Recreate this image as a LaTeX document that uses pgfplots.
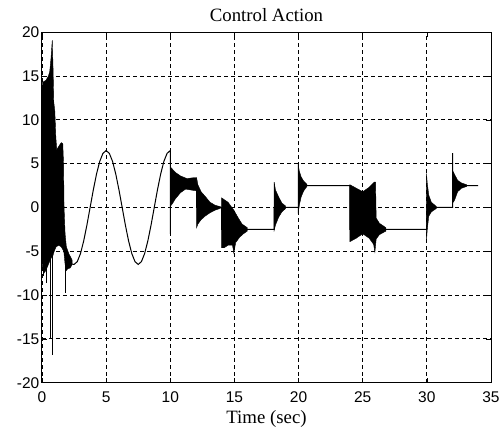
\documentclass[border=0pt]{standalone}
\usepackage{fontspec}
\setmainfont{Liberation Serif}
\newfontfamily\tickfont{Liberation Sans}
\usepackage{pgfplots}
\pgfplotsset{compat=1.18}
\begin{document}
\begin{tikzpicture}
\begin{axis}[
  scale only axis, width=449pt, height=350.4pt,
  xmin=0, xmax=35, ymin=-20, ymax=20,
  xtick={0,5,...,35}, ytick={-20,-15,...,20},
  grid=major,
  major grid style={black, line width=0.9pt, dash pattern=on 4pt off 3pt},
  axis line style={black, line width=1pt},
  tick style={black, line width=0.7pt},
  major tick length=5pt, tick align=inside,
  ticklabel style={font=\tickfont\fontsize{15.5}{18}\selectfont},
  /pgf/number format/assume math mode=true,
  xticklabel style={anchor=base, yshift=-19.6pt},
  yticklabel style={anchor=east, inner sep=0pt, xshift=-2.5pt},
  title={Control Action},
  title style={font=\fontsize{18.8}{21}\selectfont, at={(axis description cs:0.5,1)}, anchor=base, yshift=4.6pt},
  xlabel={Time (sec)},
  xlabel style={font=\fontsize{18.8}{21}\selectfont, at={(axis description cs:0.5,0)}, anchor=base, yshift=-41pt},
]
% dense chattering regions
\addplot[black, fill=black, line width=0.4pt] coordinates {(0,13.2)(0.05,14.3)(0.3,14.5)(0.5,15)(0.6,15.5)(0.7,17)(0.8,19.1)(0.86,16)(0.92,12)(1.0,11)(1.08,8)(1.15,6.6)(1.4,7.2)(1.5,7.4)(1.62,7.3)(1.68,5)(1.72,0)(1.8,-3)(1.9,-4.5)(2.1,-5.3)(2.35,-6.0)(2.35,-6.5)(2.2,-6.9)(2.0,-7.0)(1.9,-7.2)(1.8,-6.5)(1.7,-5)(1.5,-4.5)(1.3,-4.3)(1.1,-4.5)(0.95,-5)(0.85,-5.5)(0.7,-5.8)(0.5,-6.5)(0.3,-7.2)(0.15,-7.5)(0.05,-7.1)(0,-6)} -- cycle;
\addplot[black, fill=black, line width=0.4pt] coordinates {(10.02,4.6)(10.15,4.4)(10.4,4.0)(10.8,3.6)(11.3,3.3)(11.8,3.4)(12.05,3.4)(12.05,1.9)(11.6,2.0)(11.2,2.1)(10.8,1.7)(10.4,1.0)(10.15,0.4)(10.02,0.2)} -- cycle;
\addplot[black, fill=black, line width=0.4pt] coordinates {(12.05,3.4)(12.15,2.6)(12.4,1.8)(12.7,1.3)(13.1,0.6)(13.5,0.25)(13.9,0.1)(13.9,-0.1)(13.5,-0.3)(13.1,-0.6)(12.7,-1.0)(12.4,-1.4)(12.15,-1.9)(12.05,-2.3)} -- cycle;
\addplot[black, fill=black, line width=0.4pt] coordinates {(14,1.1)(14.5,0.6)(14.95,-0.3)(15.3,-1.2)(15.6,-1.9)(16,-2.3)(16,-2.7)(15.7,-3.0)(15.4,-3.4)(15.1,-4.0)(14.95,-5.2)(14.85,-4.3)(14.5,-4.3)(14.2,-4.6)(14,-4.6)} -- cycle;
\addplot[black, fill=black, line width=0.4pt] coordinates {(18.1,2.9)(18.2,2.0)(18.45,1.2)(18.7,0.5)(19.0,0.15)(19.0,-0.1)(18.7,-0.5)(18.45,-1.1)(18.2,-2.0)(18.1,-2.6)} -- cycle;
\addplot[black, fill=black, line width=0.4pt] coordinates {(19.97,5.0)(20.05,4.2)(20.2,3.5)(20.4,3.0)(20.65,2.65)(20.65,2.4)(20.4,1.9)(20.2,1.2)(20.05,0.2)(19.97,-0.7)} -- cycle;
\addplot[black, fill=black, line width=0.4pt] coordinates {(24,2.6)(24.5,2.2)(25,1.8)(25.5,2.3)(25.9,2.9)(26.0,2.9)(26.05,-1.2)(26.3,-1.8)(26.8,-2.3)(26.8,-2.7)(26.3,-3.1)(26.05,-3.6)(25.95,-5.1)(25.85,-4.2)(25.5,-3.5)(25,-3.0)(24.5,-3.5)(24,-3.9)} -- cycle;
\addplot[black, fill=black, line width=0.4pt] coordinates {(29.97,3.9)(30.03,2.8)(30.15,1.4)(30.35,0.6)(30.75,0.1)(30.75,-0.1)(30.35,-0.5)(30.15,-1.0)(30.03,-2.5)(29.97,-3.9)} -- cycle;
\addplot[black, fill=black, line width=0.4pt] coordinates {(32.05,4.1)(32.15,3.8)(32.4,3.1)(32.7,2.8)(33.1,2.6)(33.1,2.4)(32.7,2.2)(32.4,1.8)(32.15,0.8)(32.05,0.6)} -- cycle;
% spikes
\addplot[black, line width=0.6pt] coordinates {(0.1,-5)(0.1,-7.8)};
\addplot[black, line width=0.6pt] coordinates {(0.37,-5)(0.37,-8.6)};
\addplot[black, line width=0.6pt] coordinates {(0.62,-5)(0.62,-14.9)};
\addplot[black, line width=0.6pt] coordinates {(0.8,-5)(0.8,-16.8)};
\addplot[black, line width=0.6pt] coordinates {(1.8,-6)(1.8,-9.8)};
% main trajectory
\addplot[black, line width=1pt] coordinates {(1.9,-6.2)(2.1,-6.4)(2.3,-6.45)(2.5,-6.5)(2.75,-6.18)(3,-5.26)(3.25,-3.82)(3.5,-2.01)(3.75,0)(4,2.01)(4.25,3.82)(4.5,5.26)(4.75,6.18)(5,6.5)(5.25,6.18)(5.5,5.26)(5.75,3.82)(6,2.01)(6.25,0)(6.5,-2.01)(6.75,-3.82)(7,-5.26)(7.25,-6.18)(7.5,-6.5)(7.75,-6.18)(8,-5.26)(8.25,-3.82)(8.5,-2.01)(8.75,0)(9,2.01)(9.25,3.82)(9.5,5.26)(9.75,6.18)(10,6.5)(10,-3)(10.03,2.7)(12.05,2.7)(12.05,0)(14,0)(14,-2.5)(18.1,-2.5)(18.1,0)(20,0)(20,2.5)(24,2.5)(24,-2.5)(30,-2.5)(30,0)(32,0)(32,6.2)(32.03,2.5)(34,2.5)};
\end{axis}
\pgfresetboundingbox
\path[use as bounding box] ([shift={(-42pt,-44.3pt)}]current axis.south west) rectangle ++(504pt,427pt);
\end{tikzpicture}
\end{document}
